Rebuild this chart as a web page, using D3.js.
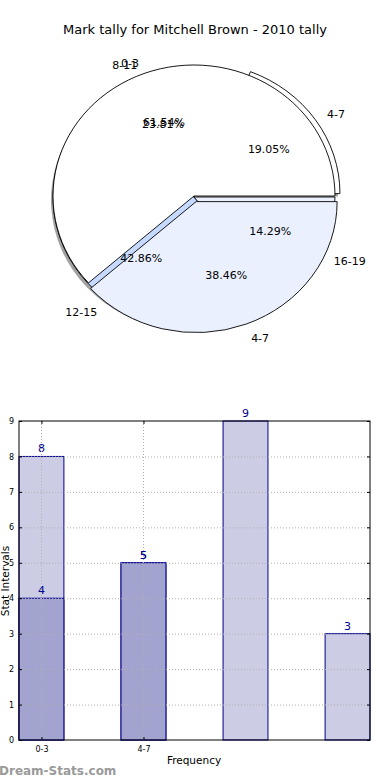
<!DOCTYPE html>
<html>
<head>
<meta charset="utf-8">
<script src="https://cdn.jsdelivr.net/npm/d3@7"></script>
<style>
  body { margin: 0; background: #fff; }
  svg { display: block; font-family: "DejaVu Sans", sans-serif; }
</style>
</head>
<body>
<svg id="chart" width="390" height="780"></svg>
<script>
// pie data (two pies drawn on top of each other)
var pieBackLabels = ["4-7", "8-11", "12-15", "16-19"];
var pieBackValues = [4, 5, 9, 3];
var pieFrontLabels = ["0-3", "4-7"];
var pieFrontValues = [8, 5];

// bar data
var barCategories = ["0-3", "4-7", "", ""];
var barLight = [8, 5, 9, 3];
var barDark = [4, 5];
var yTicks = [0, 1, 2, 3, 4, 5, 6, 7, 8, 9];

var svg = d3.select("#chart");

svg.append("text")
  .attr("x", 195).attr("y", 34)
  .attr("text-anchor", "middle")
  .style("font-size", "13px")
  .text("Mark tally for Mitchell Brown - 2010 tally");

// ---- pie ----
var cx = 194, cy = 196, rx = 141, ry = 131;
var sy = ry / rx;

// matplotlib style: start at 3 o'clock, go counterclockwise
var pie = d3.pie().sort(null)
  .startAngle(Math.PI / 2)
  .endAngle(Math.PI / 2 - 2 * Math.PI);

var arc = d3.arc().innerRadius(0).outerRadius(rx);

var sliceLayer = svg.append("g");
var labelLayer = svg.append("g");

function drawPie(values, labels, colors, explode, center, shadow) {
  var total = d3.sum(values);
  var arcs = pie(values);
  var g = sliceLayer.append("g");

  function offset(d, i) {
    var m = (d.startAngle + d.endAngle) / 2;
    return [center[0] + explode[i] * Math.sin(m), center[1] - explode[i] * Math.cos(m)];
  }

  if (shadow) {
    g.selectAll("path.shadow").data(arcs).enter().append("path")
      .attr("class", "shadow")
      .attr("transform", function(d, i) {
        var o = offset(d, i);
        return "translate(" + (o[0] - 2) + "," + (o[1] + 3) + ") scale(1," + sy + ")";
      })
      .attr("d", arc)
      .style("fill", "#555")
      .style("opacity", 0.55);
  }

  g.selectAll("path.slice").data(arcs).enter().append("path")
    .attr("class", "slice")
    .attr("transform", function(d, i) {
      var o = offset(d, i);
      return "translate(" + o[0] + "," + o[1] + ") scale(1," + sy + ")";
    })
    .attr("d", arc)
    .style("fill", function(d, i) { return colors[i]; })
    .style("stroke", "#000")
    .style("stroke-width", 0.9)
    .attr("vector-effect", "non-scaling-stroke");

  arcs.forEach(function(d, i) {
    var m = (d.startAngle + d.endAngle) / 2;
    var o = offset(d, i);
    labelLayer.append("text")
      .attr("x", o[0] + 1.1 * rx * Math.sin(m))
      .attr("y", o[1] - 1.1 * ry * Math.cos(m) + 2)
      .attr("dy", "0.35em")
      .attr("text-anchor", Math.sin(m) > 0 ? "start" : "end")
      .style("font-size", "11px")
      .text(labels[i]);
    labelLayer.append("text")
      .attr("x", o[0] + 0.6 * rx * Math.sin(m))
      .attr("y", o[1] - 0.6 * ry * Math.cos(m))
      .attr("dy", "0.35em")
      .attr("text-anchor", "middle")
      .style("font-size", "11px")
      .text((d.value / total * 100).toFixed(2) + "%");
  });
}

drawPie(pieBackValues, pieBackLabels, ["#ffffff", "#ffffff", "#c6d9ff", "#ebf0ff"],
  [6, 0, 0, 0], [cx, cy + 1], true);
drawPie(pieFrontValues, pieFrontLabels, ["#ffffff", "#ebf0ff"],
  [0, 6], [cx, cy], false);

// ---- bars ----
var m = { left: 19, right: 370, top: 421, bottom: 740 };
var bw = 0.44;
var x = d3.scaleLinear().domain([-bw / 2, 3 + bw / 2]).range([m.left, m.right]);
var y = d3.scaleLinear().domain([0, 9]).range([m.bottom, m.top]);

var bars = svg.append("g");

function drawBars(values, fill) {
  bars.selectAll(null).data(values).enter().append("rect")
    .attr("x", function(d, i) { return x(i - bw / 2); })
    .attr("y", function(d) { return y(d); })
    .attr("width", x(bw) - x(0))
    .attr("height", function(d) { return y(0) - y(d); })
    .style("fill", fill)
    .style("stroke", "#000090")
    .style("stroke-width", 1);
  bars.selectAll(null).data(values).enter().append("text")
    .attr("x", function(d, i) { return x(i); })
    .attr("y", function(d) { return y(d) - 4; })
    .attr("text-anchor", "middle")
    .style("font-size", "11px")
    .style("fill", "#000090")
    .text(function(d) { return d; });
}
drawBars(barLight, "#ccccE4");
drawBars(barDark, "#a3a3d0");

// grid on top of bars
var grid = svg.append("g")
  .style("stroke", "#b0b0b0")
  .style("stroke-dasharray", "1,2")
  .style("stroke-width", 1);
grid.selectAll(null).data(yTicks.slice(1, -1)).enter().append("line")
  .attr("x1", m.left).attr("x2", m.right)
  .attr("y1", function(d) { return y(d) + 0.5; })
  .attr("y2", function(d) { return y(d) + 0.5; });
grid.selectAll(null).data(barDark).enter().append("line")
  .attr("x1", function(d, i) { return Math.round(x(i)) + 0.5; })
  .attr("x2", function(d, i) { return Math.round(x(i)) + 0.5; })
  .attr("y1", m.top).attr("y2", m.bottom);

// frame
svg.append("rect")
  .attr("x", m.left).attr("y", m.top)
  .attr("width", m.right - m.left).attr("height", m.bottom - m.top)
  .style("fill", "none").style("stroke", "#000").style("stroke-width", 1);

// axes (ticks inside)
var yAxisL = d3.axisLeft(y).tickValues(yTicks).tickSize(-3).tickPadding(5);
var yAxisR = d3.axisRight(y).tickValues(yTicks).tickSize(-3).tickFormat("");
var xAxis = d3.axisBottom(x).tickValues([0, 1])
  .tickFormat(function(d) { return barCategories[d]; })
  .tickSize(-3).tickPadding(6);
var xAxisT = d3.axisTop(x).tickValues([0, 1]).tickSize(-3).tickFormat("");

[[yAxisL, "translate(" + m.left + ",0)"], [yAxisR, "translate(" + m.right + ",0)"],
 [xAxis, "translate(0," + m.bottom + ")"], [xAxisT, "translate(0," + m.top + ")"]]
  .forEach(function(a) {
    var g = svg.append("g").attr("transform", a[1]).call(a[0]);
    g.select(".domain").remove();
    g.selectAll("text").style("font-size", "8px").style("font-family", "DejaVu Sans, sans-serif");
  });

svg.append("text")
  .attr("x", 194).attr("y", 764)
  .attr("text-anchor", "middle")
  .style("font-size", "10.5px")
  .text("Frequency");

svg.append("text")
  .attr("transform", "translate(9,581) rotate(-90)")
  .attr("text-anchor", "middle")
  .style("font-size", "10.5px")
  .text("Stat Intervals");

svg.append("text")
  .attr("x", -1).attr("y", 775)
  .style("font-size", "12px")
  .style("font-weight", "bold")
  .style("fill", "#9a9a9a")
  .text("Dream-Stats.com");
</script>
</body>
</html>
